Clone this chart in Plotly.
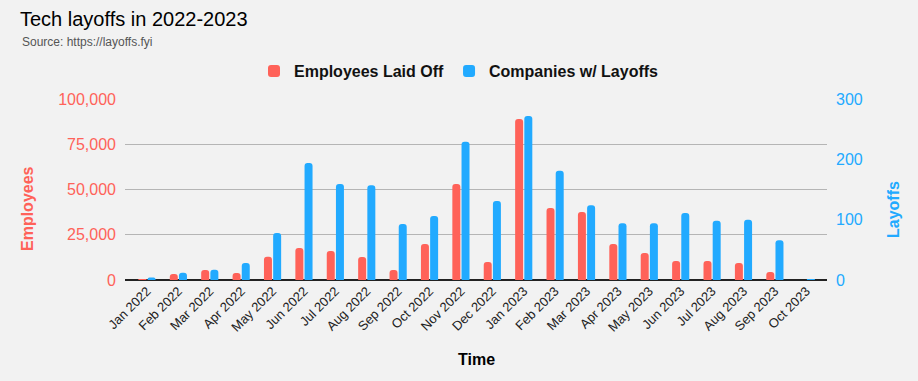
import plotly.graph_objects as go

months = ["Jan 2022", "Feb 2022", "Mar 2022", "Apr 2022", "May 2022", "Jun 2022",
          "Jul 2022", "Aug 2022", "Sep 2022", "Oct 2022", "Nov 2022", "Dec 2022",
          "Jan 2023", "Feb 2023", "Mar 2023", "Apr 2023", "May 2023", "Jun 2023",
          "Jul 2023", "Aug 2023", "Sep 2023", "Oct 2023"]
employees_laid_off = [510, 3300, 5500, 3900, 12800, 17700, 16000, 12700, 5500, 19900,
                      53000, 10000, 89000, 39800, 37600, 19900, 14900, 10500,
                      10500, 9400, 4400, 0]
companies_with_layoffs = [4, 12, 17, 28, 78, 194, 159, 157, 93, 106,
                          229, 131, 272, 181, 124, 94, 94, 111,
                          98, 100, 66, 1]
left_ticks = [0, 25000, 50000, 75000, 100000]
right_ticks = [0, 100, 200, 300]

RED = "#ff6259"
BLUE = "#22aaff"
FONT = "Arial, Liberation Sans, sans-serif"
W, H = 918, 381
L, R, T, B = 125, 91, 99, 101
PW, PH = W - L - R, H - T - B

fig = go.Figure()
fig.add_trace(go.Bar(x=months, y=employees_laid_off, name="Employees Laid Off",
                     marker=dict(color=RED, cornerradius=3, line=dict(width=0)),
                     offsetgroup="1", yaxis="y"))
fig.add_trace(go.Bar(x=months, y=companies_with_layoffs, name="Companies w/ Layoffs",
                     marker=dict(color=BLUE, cornerradius=3, line=dict(width=0)),
                     offsetgroup="2", yaxis="y2"))

fig.update_layout(
    width=W, height=H,
    margin=dict(l=L, r=R, t=T, b=B, autoexpand=False),
    paper_bgcolor="#f2f2f2", plot_bgcolor="#f2f2f2",
    font=dict(family=FONT, color="#222"),
    barmode="group", bargap=0.415, bargroupgap=0.13,
    title=dict(text="Tech layoffs in 2022-2023", font=dict(size=20, color="#000", family=FONT),
               xref="container", yref="container", x=20 / W, xanchor="left",
               y=1 - 19 / H, yanchor="middle"),
    legend=dict(orientation="h", xref="container", yref="container",
                x=0.5, xanchor="center", y=1 - 71 / H, yanchor="middle",
                font=dict(size=16, color="#111", family=FONT, weight="bold"),
                bgcolor="rgba(0,0,0,0)", itemwidth=30, traceorder="normal"),
    showlegend=True,
    xaxis=dict(type="category", range=[-0.70, 21.66], tickangle=-45,
               tickfont=dict(size=13, color="#222"), showgrid=False,
               showline=False, ticks="", zeroline=False, fixedrange=True),
    yaxis=dict(range=[0, 100000], tickvals=left_ticks, tickformat=",d",
               tickfont=dict(size=16, color=RED), showgrid=True, gridcolor="#b5b5b5",
               gridwidth=1, zeroline=True, zerolinecolor="#222", zerolinewidth=1.5,
               ticks="", ticklabelstandoff=8, showline=False),
    yaxis2=dict(range=[0, 300], tickvals=right_ticks, overlaying="y", side="right",
                tickfont=dict(size=16, color=BLUE), showgrid=False, zeroline=False,
                ticks="", ticklabelstandoff=8, showline=False),
)

annotations = [
    dict(text="Source: https://layoffs.fyi", xref="paper", yref="paper",
         x=(20 - L) / PW, y=(H - B - 42) / PH, xanchor="left", yanchor="middle",
         showarrow=False, font=dict(size=12, color="#555", family=FONT)),
    dict(text="<b>Employees</b>", xref="paper", yref="paper",
         x=(27 - L) / PW, y=(H - B - 209) / PH, xanchor="center", yanchor="middle",
         textangle=-90, showarrow=False, font=dict(size=16, color=RED, family=FONT)),
    dict(text="<b>Layoffs</b>", xref="paper", yref="paper",
         x=(893 - L) / PW, y=(H - B - 210) / PH, xanchor="center", yanchor="middle",
         textangle=-90, showarrow=False, font=dict(size=16, color=BLUE, family=FONT)),
    dict(text="<b>Time</b>", xref="paper", yref="paper",
         x=(476 - L) / PW, y=(H - B - 359) / PH, xanchor="center", yanchor="middle",
         showarrow=False, font=dict(size=16, color="#000", family=FONT)),
]
fig.update_layout(annotations=annotations)

fig.write_html("out.html", config={"displayModeBar": False},
               post_script="document.body.style.margin='0';document.body.style.background='#f2f2f2';")
